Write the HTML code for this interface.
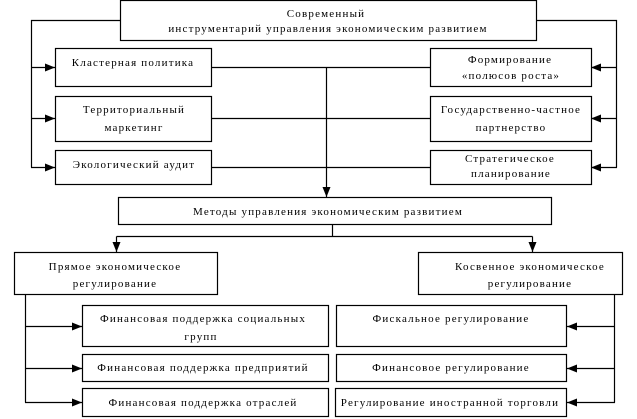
<!DOCTYPE html>
<html><head><meta charset="utf-8"><style>
html,body{margin:0;padding:0;background:#fff;}
svg{display:block;}
text{font-family:"Liberation Serif",serif;font-size:11px;letter-spacing:1.2px;fill:#000;text-anchor:middle;}
</style></head><body>
<svg width="637" height="419" viewBox="0 0 637 419" xmlns="http://www.w3.org/2000/svg">
<defs>
<marker id="a" markerWidth="10" markerHeight="8" refX="10" refY="4" orient="auto" markerUnits="userSpaceOnUse">
<path d="M0,0 L10,4 L0,8 z" fill="#000"/></marker>
</defs>
<g fill="none" stroke="#000" stroke-width="1.2">
<rect x="120.5" y="0.5" width="416" height="40"/>
<rect x="55.5" y="48.5" width="156" height="38"/>
<rect x="55.5" y="96.5" width="156" height="45"/>
<rect x="55.5" y="150.5" width="156" height="34"/>
<rect x="430.5" y="48.5" width="161" height="38"/>
<rect x="430.5" y="96.5" width="161" height="45"/>
<rect x="430.5" y="150.5" width="161" height="34"/>
<rect x="118.5" y="197.5" width="433" height="27"/>
<rect x="14.5" y="252.5" width="203" height="42"/>
<rect x="418.5" y="252.5" width="204" height="42"/>
<rect x="82.5" y="305.5" width="246" height="41"/>
<rect x="82.5" y="354.5" width="246" height="27"/>
<rect x="82.5" y="388.5" width="246" height="28"/>
<rect x="336.5" y="305.5" width="230" height="41"/>
<rect x="336.5" y="354.5" width="230" height="27"/>
<rect x="335.5" y="388.5" width="231" height="28"/>
<polyline points="120,20.5 31.5,20.5 31.5,167.5"/>
<polyline points="537,20.5 616.5,20.5 616.5,167.5"/>
<line x1="31" y1="67.5" x2="55" y2="67.5" marker-end="url(#a)"/>
<line x1="31" y1="118.5" x2="55" y2="118.5" marker-end="url(#a)"/>
<line x1="31" y1="167.5" x2="55" y2="167.5" marker-end="url(#a)"/>
<line x1="617" y1="67.5" x2="591" y2="67.5" marker-end="url(#a)"/>
<line x1="617" y1="118.5" x2="591" y2="118.5" marker-end="url(#a)"/>
<line x1="617" y1="167.5" x2="591" y2="167.5" marker-end="url(#a)"/>
<line x1="211" y1="67.5" x2="430" y2="67.5"/>
<line x1="211" y1="118.5" x2="430" y2="118.5"/>
<line x1="211" y1="167.5" x2="430" y2="167.5"/>
<line x1="326.5" y1="67" x2="326.5" y2="197" marker-end="url(#a)"/>
<line x1="332.5" y1="225" x2="332.5" y2="236.5"/>
<line x1="116.5" y1="236.5" x2="532.5" y2="236.5"/>
<line x1="116.5" y1="236.5" x2="116.5" y2="252" marker-end="url(#a)"/>
<line x1="532.5" y1="236.5" x2="532.5" y2="252" marker-end="url(#a)"/>
<polyline points="25.5,295 25.5,402.5"/>
<line x1="25" y1="326.5" x2="82" y2="326.5" marker-end="url(#a)"/>
<line x1="25" y1="368.5" x2="82" y2="368.5" marker-end="url(#a)"/>
<line x1="25" y1="402.5" x2="82" y2="402.5" marker-end="url(#a)"/>
<polyline points="614.5,295 614.5,402.5"/>
<line x1="615" y1="326.5" x2="567" y2="326.5" marker-end="url(#a)"/>
<line x1="615" y1="368.5" x2="567" y2="368.5" marker-end="url(#a)"/>
<line x1="615" y1="402.5" x2="567" y2="402.5" marker-end="url(#a)"/>
</g>
<text x="326" y="17">Современный</text>
<text x="328" y="32">инструментарий управления экономическим развитием</text>
<text x="133" y="66">Кластерная политика</text>
<text x="134" y="113">Территориальный</text>
<text x="134" y="131">маркетинг</text>
<text x="134" y="168">Экологический аудит</text>
<text x="510" y="63">Формирование</text>
<text x="511" y="79">«полюсов роста»</text>
<text x="511" y="113">Государственно-частное</text>
<text x="511" y="131">партнерство</text>
<text x="510" y="162">Стратегическое</text>
<text x="511" y="177">планирование</text>
<text x="328" y="215">Методы управления экономическим развитием</text>
<text x="115" y="270">Прямое экономическое</text>
<text x="115" y="287">регулирование</text>
<text x="530" y="270">Косвенное экономическое</text>
<text x="530" y="287">регулирование</text>
<text x="203" y="322">Финансовая поддержка социальных</text>
<text x="201" y="340">групп</text>
<text x="203" y="371">Финансовая поддержка предприятий</text>
<text x="203" y="406">Финансовая поддержка отраслей</text>
<text x="451" y="322">Фискальное регулирование</text>
<text x="451" y="371">Финансовое регулирование</text>
<text x="450" y="406">Регулирование иностранной торговли</text>
</svg>
</body></html>
